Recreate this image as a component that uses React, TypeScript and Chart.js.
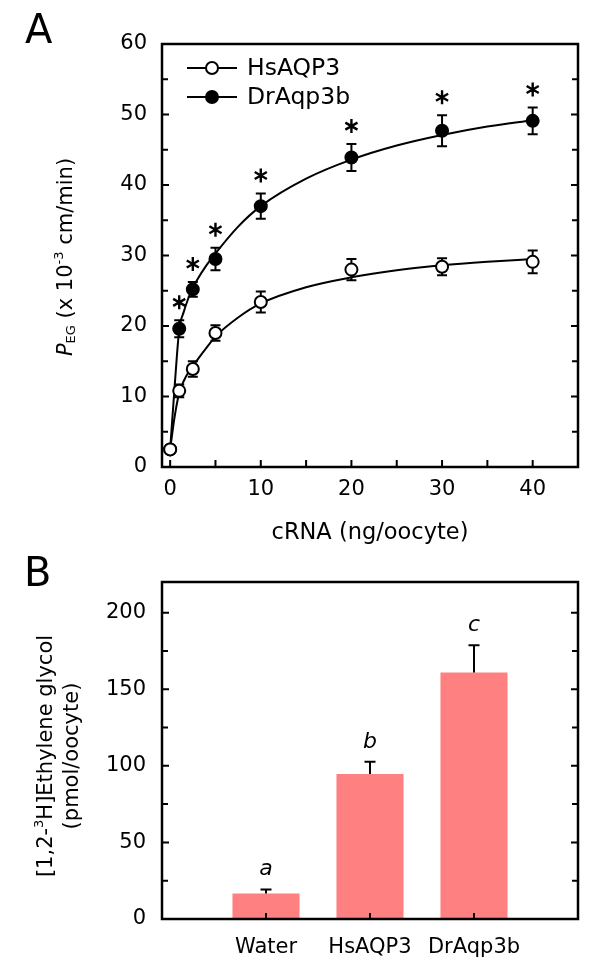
import React, { useEffect, useRef } from 'react';
import { Chart, registerables } from 'chart.js';

Chart.register(...registerables);

const FONT = "'DejaVu Sans', sans-serif";

// ---------- Panel A data ----------
const seriesNames = ['HsAQP3', 'DrAqp3b'];
const cRNA = [0, 1, 2.5, 5, 10, 20, 30, 40];
const hsMean = [2.5, 10.8, 13.9, 19.0, 23.4, 28.0, 28.4, 29.1];
const hsErr = [0, 0.9, 1.1, 1.1, 1.5, 1.5, 1.2, 1.6];
const drMean = [2.5, 19.6, 25.2, 29.5, 37.0, 43.9, 47.7, 49.1];
const drErr = [0, 1.2, 1.05, 1.6, 1.8, 1.9, 2.2, 1.9];
const drSignificant = [false, true, true, true, true, true, true, true];
// fitted curves
const fitX = [0, 0.5, 1, 1.5, 2, 2.5, 3, 4, 5, 7.5, 10, 15, 20, 25, 30, 35, 40];
const hsFit = [2.5, 7.2, 10.5, 12.2, 13.4, 14.3, 15.2, 16.9, 18.5, 21.2, 23.2, 25.5, 26.9, 27.9, 28.6, 29.1, 29.5];
const drFit = [2.5, 11.5, 19.5, 22.0, 23.9, 25.4, 26.6, 28.6, 30.3, 34.1, 37.0, 40.9, 43.6, 45.6, 47.1, 48.3, 49.2];
const xTicksA = [0, 10, 20, 30, 40];
const yTicksA = [0, 10, 20, 30, 40, 50, 60];

// ---------- Panel B data ----------
const groups = ['Water', 'HsAQP3', 'DrAqp3b'];
const uptake = [16.7, 94.6, 160.9];
const uptakeErr = [2.6, 8.0, 17.8];
const groupLetters = ['a', 'b', 'c'];
const yTicksB = [0, 50, 100, 150, 200];

type Seg = { t: string; size: number; italic?: boolean; dy?: number };

function drawSegs(ctx: CanvasRenderingContext2D, segs: Seg[], cx: number, cy: number) {
  let total = 0;
  const widths = segs.map((s) => {
    ctx.font = `${s.italic ? 'italic ' : ''}${s.size}px ${FONT}`;
    const w = ctx.measureText(s.t).width;
    total += w;
    return w;
  });
  let x = cx - total / 2;
  segs.forEach((s, i) => {
    ctx.font = `${s.italic ? 'italic ' : ''}${s.size}px ${FONT}`;
    ctx.textAlign = 'left';
    ctx.textBaseline = 'middle';
    ctx.fillText(s.t, x, cy + (s.dy || 0));
    x += widths[i];
  });
}

function drawAsterisk(ctx: CanvasRenderingContext2D, cx: number, cy: number, r: number) {
  ctx.beginPath();
  [90, 30, 150].forEach((deg) => {
    const a = (deg * Math.PI) / 180;
    ctx.moveTo(cx + r * Math.cos(a), cy - r * Math.sin(a));
    ctx.lineTo(cx - r * Math.cos(a), cy + r * Math.sin(a));
  });
  ctx.stroke();
}

const panelAPlugin = {
  id: 'panelA',
  beforeDatasetsDraw(chart: any) {
    const { ctx, scales } = chart;
    const x = scales.x, y = scales.y;
    ctx.save();
    ctx.strokeStyle = '#000';
    ctx.lineWidth = 2;
    const drawErr = (means: number[], errs: number[]) => {
      cRNA.forEach((v, i) => {
        if (!errs[i]) return;
        const px = x.getPixelForValue(v);
        const top = y.getPixelForValue(means[i] + errs[i]);
        const bot = y.getPixelForValue(means[i] - errs[i]);
        ctx.beginPath();
        ctx.moveTo(px, top); ctx.lineTo(px, bot);
        ctx.moveTo(px - 5, top); ctx.lineTo(px + 5, top);
        ctx.moveTo(px - 5, bot); ctx.lineTo(px + 5, bot);
        ctx.stroke();
      });
    };
    drawErr(drMean, drErr);
    drawErr(hsMean, hsErr);
    ctx.restore();
  },
  afterDatasetsDraw(chart: any) {
    const { ctx, chartArea, scales } = chart;
    const x = scales.x, y = scales.y;
    const { left, right, top, bottom } = chartArea;
    ctx.save();
    ctx.strokeStyle = '#000';
    ctx.fillStyle = '#000';
    // asterisks
    ctx.lineWidth = 2.4;
    cRNA.forEach((v, i) => {
      if (!drSignificant[i]) return;
      const px = x.getPixelForValue(v);
      const capY = y.getPixelForValue(drMean[i] + drErr[i]);
      drawAsterisk(ctx, px, capY - 18, 7);
    });
    // frame
    ctx.lineWidth = 2.5;
    ctx.strokeRect(left, top, right - left, bottom - top);
    // ticks
    ctx.lineWidth = 2;
    ctx.beginPath();
    for (let v = 0; v <= 60; v += 5) {
      const py = y.getPixelForValue(v);
      const len = v % 10 === 0 ? 7 : 6;
      ctx.moveTo(left, py); ctx.lineTo(left + len, py);
      ctx.moveTo(right, py); ctx.lineTo(right - len, py);
    }
    for (let v = 0; v <= 40; v += 5) {
      const px = x.getPixelForValue(v);
      ctx.moveTo(px, bottom); ctx.lineTo(px, bottom - 7);
    }
    ctx.stroke();
    // legend
    const legendY = [68, 97];
    const fills = ['#fff', '#000'];
    seriesNames.forEach((name, i) => {
      const ly = legendY[i];
      ctx.lineWidth = 2;
      ctx.beginPath();
      ctx.moveTo(187, ly); ctx.lineTo(237, ly);
      ctx.stroke();
      ctx.beginPath();
      ctx.arc(212, ly, 6, 0, Math.PI * 2);
      ctx.fillStyle = fills[i];
      ctx.fill();
      ctx.stroke();
      ctx.fillStyle = '#000';
      ctx.font = `23.5px ${FONT}`;
      ctx.textAlign = 'left';
      ctx.textBaseline = 'middle';
      ctx.fillText(name, 247, ly + 1);
    });
    // x title
    ctx.font = `22.5px ${FONT}`;
    ctx.textAlign = 'center';
    ctx.textBaseline = 'middle';
    ctx.fillText('cRNA (ng/oocyte)', (left + right) / 2, 533);
    // y title
    ctx.save();
    ctx.translate(67, 257);
    ctx.rotate(-Math.PI / 2);
    drawSegs(ctx, [
      { t: 'P', size: 21, italic: true },
      { t: 'EG', size: 13, dy: 5 },
      { t: ' (x 10', size: 21 },
      { t: '-3', size: 13, dy: -7 },
      { t: ' cm/min)', size: 21 },
    ], 0, 0);
    ctx.restore();
    // panel letter
    ctx.font = `40px ${FONT}`;
    ctx.textAlign = 'left';
    ctx.textBaseline = 'alphabetic';
    ctx.fillText('A', 25, 43);
    ctx.restore();
  },
};

const panelBPlugin = {
  id: 'panelB',
  afterDatasetsDraw(chart: any) {
    const { ctx, chartArea, scales } = chart;
    const x = scales.x, y = scales.y;
    const { left, right, top, bottom } = chartArea;
    ctx.save();
    ctx.strokeStyle = '#000';
    ctx.fillStyle = '#000';
    // error bars + letters
    groups.forEach((g, i) => {
      const px = x.getPixelForValue(i + 1);
      const base = y.getPixelForValue(uptake[i]);
      const cap = y.getPixelForValue(uptake[i] + uptakeErr[i]);
      ctx.lineWidth = 2;
      ctx.beginPath();
      ctx.moveTo(px, base); ctx.lineTo(px, cap);
      ctx.moveTo(px - 5.5, cap); ctx.lineTo(px + 5.5, cap);
      ctx.stroke();
      ctx.font = `italic 22px ${FONT}`;
      ctx.textAlign = 'center';
      ctx.textBaseline = 'alphabetic';
      ctx.fillText(groupLetters[i], px, cap - 14);
    });
    // frame
    ctx.lineWidth = 2.5;
    ctx.strokeRect(left, top, right - left, bottom - top);
    // ticks
    ctx.lineWidth = 2;
    ctx.beginPath();
    for (let v = 0; v <= 200; v += 25) {
      const py = y.getPixelForValue(v);
      const len = v % 50 === 0 ? 7 : 6;
      ctx.moveTo(left, py); ctx.lineTo(left + len, py);
      ctx.moveTo(right, py); ctx.lineTo(right - len, py);
    }
    groups.forEach((g, i) => {
      const px = x.getPixelForValue(i + 1);
      ctx.moveTo(px, bottom); ctx.lineTo(px, bottom - 6);
    });
    ctx.stroke();
    // y title (two lines)
    ctx.save();
    ctx.translate(47, 216);
    ctx.rotate(-Math.PI / 2);
    drawSegs(ctx, [
      { t: '[1,2-', size: 21 },
      { t: '3', size: 13, dy: -7 },
      { t: 'H]Ethylene glycol', size: 21 },
    ], 0, 0);
    ctx.restore();
    ctx.save();
    ctx.translate(73, 216);
    ctx.rotate(-Math.PI / 2);
    drawSegs(ctx, [{ t: '(pmol/oocyte)', size: 21 }], 0, 0);
    ctx.restore();
    // panel letter
    ctx.font = `40px ${FONT}`;
    ctx.textAlign = 'left';
    ctx.textBaseline = 'alphabetic';
    ctx.fillText('B', 24, 46);
    ctx.restore();
  },
};

export default function App() {
  const refA = useRef<HTMLCanvasElement>(null);
  const refB = useRef<HTMLCanvasElement>(null);

  useEffect(() => {
    const tickFont = { family: FONT, size: 21 };
    const chartA = new Chart(refA.current as HTMLCanvasElement, {
      type: 'line',
      data: {
        datasets: [
          {
            label: 'hsFit',
            data: fitX.map((v, i) => ({ x: v, y: hsFit[i] })),
            borderColor: '#000',
            borderWidth: 2,
            pointRadius: 0,
            cubicInterpolationMode: 'monotone',
            fill: false,
            order: 3,
          },
          {
            label: 'drFit',
            data: fitX.map((v, i) => ({ x: v, y: drFit[i] })),
            borderColor: '#000',
            borderWidth: 2,
            pointRadius: 0,
            cubicInterpolationMode: 'monotone',
            fill: false,
            order: 2,
          },
          {
            label: seriesNames[1],
            data: cRNA.map((v, i) => ({ x: v, y: drMean[i] })),
            showLine: false,
            pointRadius: 6,
            pointBackgroundColor: '#000',
            pointBorderColor: '#000',
            pointBorderWidth: 2,
            order: 1,
          },
          {
            label: seriesNames[0],
            data: cRNA.map((v, i) => ({ x: v, y: hsMean[i] })),
            showLine: false,
            pointRadius: 6,
            pointBackgroundColor: '#fff',
            pointBorderColor: '#000',
            pointBorderWidth: 2,
            order: 0,
          },
        ],
      } as any,
      options: {
        animation: false,
        responsive: false,
        layout: { padding: { left: 0, top: 44, right: 22, bottom: 0 } },
        plugins: { legend: { display: false }, tooltip: { enabled: false } },
        scales: {
          x: {
            type: 'linear',
            min: -0.9,
            max: 45,
            afterBuildTicks: (s: any) => { s.ticks = xTicksA.map((v) => ({ value: v })); },
            afterFit: (s: any) => { s.height = 93; },
            grid: { display: false, drawTicks: false },
            border: { display: false },
            ticks: { font: tickFont, color: '#000', padding: 10, maxRotation: 0, autoSkip: false },
          },
          y: {
            type: 'linear',
            min: 0,
            max: 60,
            afterBuildTicks: (s: any) => { s.ticks = yTicksA.map((v) => ({ value: v })); },
            afterFit: (s: any) => { s.width = 162; },
            grid: { display: false, drawTicks: false },
            border: { display: false },
            ticks: { font: tickFont, color: '#000', padding: 15 },
          },
        },
      } as any,
      plugins: [panelAPlugin],
    });

    const chartB = new Chart(refB.current as HTMLCanvasElement, {
      type: 'bar',
      data: {
        labels: ['', ...groups, ''],
        datasets: [
          {
            label: 'uptake',
            data: [null, ...uptake, null],
            backgroundColor: '#FF8080',
            borderWidth: 0,
            barPercentage: 0.645,
            categoryPercentage: 1,
          },
        ],
      } as any,
      options: {
        animation: false,
        responsive: false,
        layout: { padding: { left: 0, top: 42, right: 22, bottom: 0 } },
        plugins: { legend: { display: false }, tooltip: { enabled: false } },
        scales: {
          x: {
            offset: false,
            afterFit: (s: any) => { s.height = 58; },
            grid: { display: false, drawTicks: false },
            border: { display: false },
            ticks: { font: tickFont, color: '#000', padding: 16, maxRotation: 0, autoSkip: false },
          },
          y: {
            min: 0,
            max: 220,
            afterBuildTicks: (s: any) => { s.ticks = yTicksB.map((v) => ({ value: v })); },
            afterFit: (s: any) => { s.width = 162; },
            grid: { display: false, drawTicks: false },
            border: { display: false },
            ticks: { font: tickFont, color: '#000', padding: 16 },
          },
        },
      } as any,
      plugins: [panelBPlugin],
    });

    return () => {
      chartA.destroy();
      chartB.destroy();
    };
  }, []);

  return (
    <div style={{ position: 'absolute', left: 0, top: 0, width: 600, height: 977, background: '#fff' }}>
      <canvas ref={refA} width={600} height={560} style={{ position: 'absolute', left: 0, top: 0 }} />
      <canvas ref={refB} width={600} height={437} style={{ position: 'absolute', left: 0, top: 540 }} />
    </div>
  );
}
